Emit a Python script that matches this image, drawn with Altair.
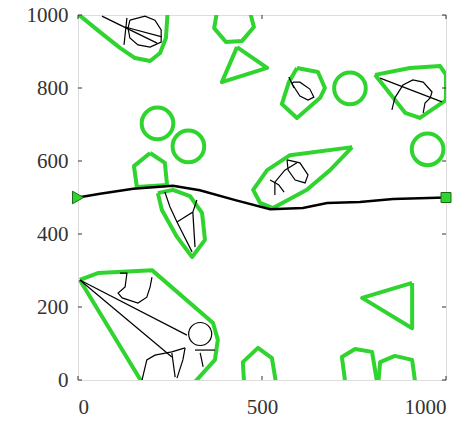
import altair as alt
import pandas as pd

GREEN = "#2fd42f"

# ---- green obstacle polygons (data coordinates) ----
obs_A = [(-15, 1015), (60, 953), (114, 910), (155, 882), (196, 874), (223, 896), (239, 937), (243, 1000), (245, 1040), (-15, 1040)]
obs_B = [(378, 1010), (467, 1010), (478, 967), (446, 929), (402, 926), (370, 964)]
obs_C = [(432, 912), (514, 855), (391, 816)]
obs_F = [(196, 622), (236, 595), (242, 534), (160, 529), (152, 586)]
obs_H = [(595, 855), (652, 844), (671, 800), (658, 773), (595, 718), (554, 756), (573, 816)]
obs_I = [(807, 836), (902, 855), (984, 860), (1000, 836), (1000, 767), (929, 718), (889, 732)]
obs_J = [(745, 638), (576, 616), (514, 575), (476, 521), (495, 485), (530, 471), (622, 521), (685, 575)]
obs_K = [(217, 512), (258, 521), (304, 504), (337, 458), (345, 384), (310, 337), (269, 392), (228, 466)]
obs_L = [(5, 274), (54, 293), (201, 301), (367, 156), (380, 110), (372, 55), (300, -25), (185, -25)]
obs_M = [(452, -20), (448, 49), (489, 88), (527, 60), (540, -20)]
obs_N1 = [(728, -20), (717, 63), (753, 85), (799, 77), (815, -20)]
obs_N2 = [(815, -20), (821, 49), (861, 66), (908, 55), (918, -20)]
obs_O = [(908, 266), (772, 225), (908, 142)]
polygons = {"A": obs_A, "B": obs_B, "C": obs_C, "F": obs_F, "H": obs_H, "I": obs_I,
            "J": obs_J, "K": obs_K, "L": obs_L, "M": obs_M, "N1": obs_N1, "N2": obs_N2, "O": obs_O}

# circular obstacles (centres)
circle_x = [216, 300, 739, 950]
circle_y = [703, 640, 799, 632]

# ---- thin black exploration lines ----
tree_lines = [
    [(65, 997), (215, 923)],
    [(128, 967), (228, 940)],
    [(133, 992), (125, 918)],
    [(141, 986), (182, 997), (209, 986), (226, 959), (226, 926), (196, 912), (163, 918), (141, 937), (136, 964), (141, 986)],
    [(584, 816), (603, 816), (630, 797), (641, 775), (625, 767), (603, 778), (582, 811), (584, 816)],
    [(573, 830), (587, 800)],
    [(821, 827), (989, 762)],
    [(861, 773), (883, 808), (910, 822), (938, 816), (962, 789), (957, 773), (943, 759), (938, 732)],
    [(861, 773), (853, 740)],
    [(535, 507), (535, 542), (562, 575), (595, 595)],
    [(568, 603), (603, 595), (625, 562), (617, 540), (590, 548), (571, 575), (568, 603)],
    [(522, 548), (545, 535), (560, 515)],
    [(236, 515), (250, 474), (269, 433), (310, 351)],
    [(269, 433), (312, 460), (323, 493)],
    [(312, 460), (318, 364)],
    [(5, 274), (296, 123)],
    [(5, 274), (255, 63)],
    [(114, 293), (133, 293), (128, 255), (109, 238), (120, 225), (163, 211), (187, 227), (196, 255), (201, 282)],
    [(174, 0), (187, 55), (209, 68), (255, 77), (291, 88)],
    [(255, 74), (264, 8)],
    [(291, 88), (285, 55), (269, 5)],
    [(318, 82), (372, 82)],
    [(332, 74), (340, 36)],
]
tree_circle_x = [332]
tree_circle_y = [126]

# ---- final path ----
path_x = [0, 60, 150, 258, 331, 430, 522, 611, 677, 766, 856, 1000]
path_y = [500, 510, 524, 532, 520, 492, 468, 471, 485, 488, 496, 500]

yticks = [0, 200, 400, 600, 800, 1000]
xticks = [0, 500, 1000]

# ---- tables ----
rows = []
for name, pts in polygons.items():
    for i, (x, y) in enumerate(pts + [pts[0]]):
        rows.append({"shape": name, "i": i, "x": x, "y": y})
poly_df = pd.DataFrame(rows)

rows = []
for k, pts in enumerate(tree_lines):
    for i, (x, y) in enumerate(pts):
        rows.append({"seg": k, "i": i, "x": x, "y": y})
tree_df = pd.DataFrame(rows)

circ_df = pd.DataFrame({"x": circle_x, "y": circle_y})
tcirc_df = pd.DataFrame({"x": tree_circle_x, "y": tree_circle_y})
path_df = pd.DataFrame({"x": path_x, "y": path_y, "i": list(range(len(path_x)))})
start_df = pd.DataFrame({"x": [path_x[0]], "y": [path_y[0]]})
end_df = pd.DataFrame({"x": [path_x[-1]], "y": [path_y[-1]]})
xt_df = pd.DataFrame({"v": xticks})
yt_df = pd.DataFrame({"v": yticks})

W, H = 368, 365
FONT = "Liberation Serif, Times New Roman, serif"
LBL = dict(labelFont=FONT, labelFontSize=21, labelColor="#333333", format="d",
           grid=False, domain=False, ticks=False, title=None)
X = alt.X("x:Q", scale=alt.Scale(domain=[0, 1000], nice=False),
          axis=alt.Axis(values=xticks, labelPadding=16, **LBL))
Y = alt.Y("y:Q", scale=alt.Scale(domain=[0, 1000], nice=False),
          axis=alt.Axis(values=yticks, labelPadding=10, **LBL))
xs = alt.Scale(domain=[0, 1000], nice=False)

green = alt.Chart(poly_df).mark_line(color=GREEN, strokeWidth=4, strokeJoin="round", clip=True).encode(
    x=X, y=Y, detail="shape:N", order="i:Q")
circles = alt.Chart(circ_df).mark_point(shape="circle", filled=False, color=GREEN, strokeWidth=4,
                                        size=1000, opacity=1, clip=True).encode(x=X, y=Y)
tree = alt.Chart(tree_df).mark_line(color="black", strokeWidth=1.2, clip=True).encode(
    x=X, y=Y, detail="seg:N", order="i:Q")
tcirc = alt.Chart(tcirc_df).mark_point(shape="circle", filled=False, color="black", strokeWidth=1.2,
                                       size=530, opacity=1).encode(x=X, y=Y)
path = alt.Chart(path_df).mark_line(color="black", strokeWidth=2.5).encode(x=X, y=Y, order="i:Q")
start = alt.Chart(start_df).mark_point(shape="triangle-right", filled=True, fill=GREEN, stroke="#1a6a1a",
                                       strokeWidth=1, size=160, opacity=1).encode(x=X, y=Y)
end = alt.Chart(end_df).mark_point(shape="square", filled=True, fill=GREEN, stroke="#1a6a1a",
                                   strokeWidth=1, size=100, opacity=1).encode(x=X, y=Y)

tb = alt.Chart(xt_df).mark_rule(color="#333", strokeWidth=1).encode(
    x=alt.X("v:Q", scale=xs), y=alt.value(H), y2=alt.value(H - 4))
tt = alt.Chart(xt_df).mark_rule(color="#333", strokeWidth=1).encode(
    x=alt.X("v:Q", scale=xs), y=alt.value(0), y2=alt.value(4))
tl = alt.Chart(yt_df).mark_rule(color="#333", strokeWidth=1).encode(
    y=alt.Y("v:Q", scale=xs), x=alt.value(0), x2=alt.value(4))
tr = alt.Chart(yt_df).mark_rule(color="#333", strokeWidth=1).encode(
    y=alt.Y("v:Q", scale=xs), x=alt.value(W), x2=alt.value(W - 4))

chart = alt.layer(green, circles, tree, tcirc, path, start, end, tb, tt, tl, tr).properties(
    width=W, height=H, autosize="none",
    padding={"left": 78, "top": 15, "right": 30, "bottom": 43},
).configure_view(stroke="#333333", strokeWidth=1.2).configure(background="white")

chart.save("out.html", embed_options={"renderer": "svg", "actions": False})
